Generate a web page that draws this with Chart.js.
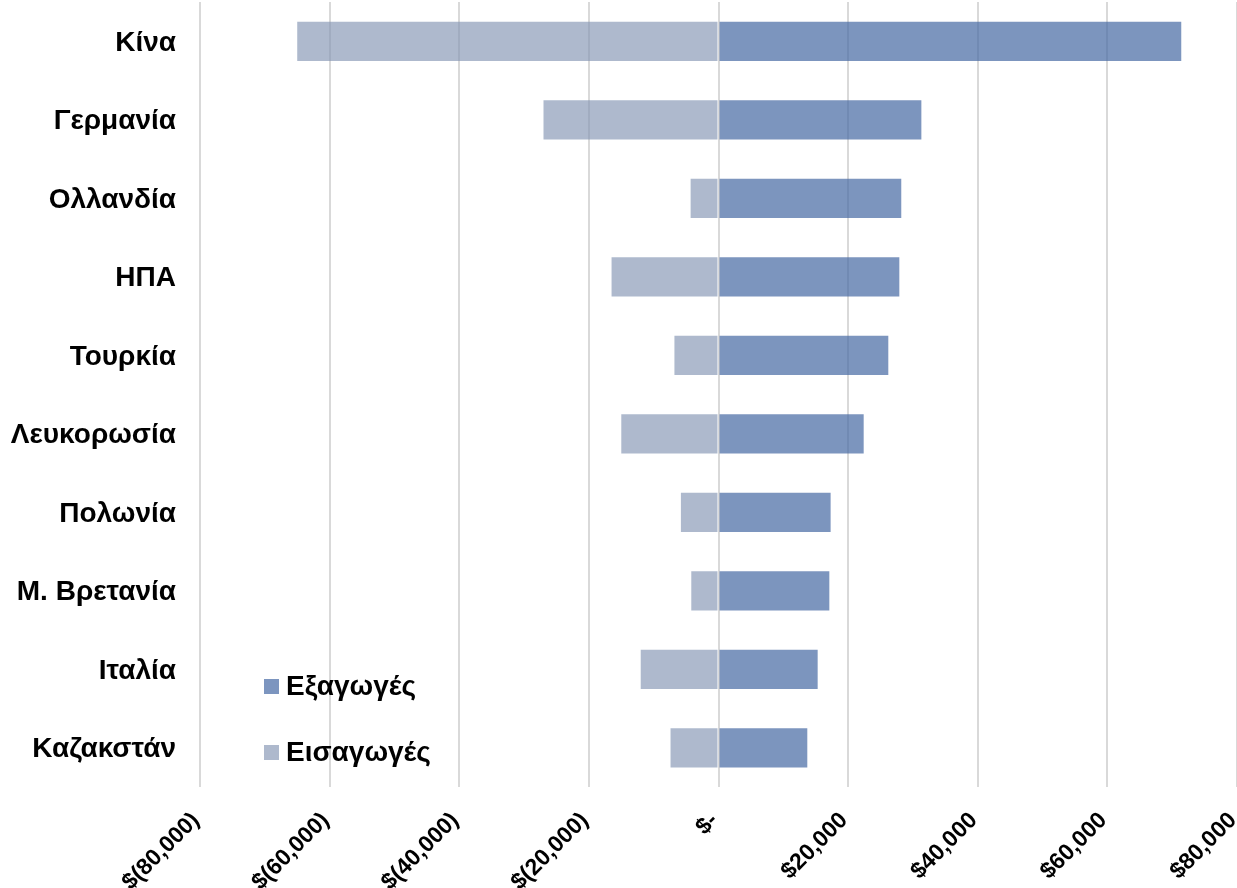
<!DOCTYPE html>
<html>
<head>
<meta charset="utf-8">
<script src="https://cdn.jsdelivr.net/npm/chart.js@4/dist/chart.umd.min.js"></script>
<style>
html,body{margin:0;padding:0;background:#fff;}
#wrap{position:relative;width:1237px;height:888px;}
#legend{position:absolute;left:264px;top:653px;font-family:"Liberation Sans",Arial,sans-serif;font-weight:bold;font-size:28px;color:#000;}
#legend .item{display:flex;align-items:center;height:66px;}
#legend .sw{width:15px;height:15px;margin-right:7px;}
</style>
</head>
<body>
<div id="wrap">
<canvas id="c" width="1237" height="888"></canvas>
<div id="legend"></div>
</div>
<script>
const categories = ["Κίνα","Γερμανία","Ολλανδία","ΗΠΑ","Τουρκία","Λευκορωσία","Πολωνία","Μ. Βρετανία","Ιταλία","Καζακστάν"];
const exportsData = [71400, 31300, 28200, 27900, 26200, 22400, 17300, 17100, 15300, 13700];
const importsData = [-65000, -27000, -4300, -16500, -6800, -15000, -5800, -4200, -12000, -7400];
const seriesNames = ["Εξαγωγές","Εισαγωγές"];
const seriesColors = ["rgba(68,104,163,0.7)","rgba(130,148,178,0.65)"];
const legendSwatches = ["#7c95bf","#aeb9cd"];
const tickValues = [-80000,-60000,-40000,-20000,0,20000,40000,60000,80000];

function fmt(v){
  if (v === 0) return "$-";
  const s = Math.abs(v).toLocaleString("en-US");
  return v < 0 ? "$(" + s + ")" : "$" + s;
}

const FONT = '"Liberation Sans", Arial, sans-serif';

new Chart(document.getElementById("c"), {
  type: "bar",
  data: {
    labels: categories,
    datasets: [
      {label: seriesNames[0], data: exportsData, backgroundColor: seriesColors[0], barPercentage: 0.5, categoryPercentage: 1},
      {label: seriesNames[1], data: importsData, backgroundColor: seriesColors[1], barPercentage: 0.5, categoryPercentage: 1}
    ]
  },
  options: {
    indexAxis: "y",
    responsive: false,
    animation: false,
    layout: {padding: {top: 2, right: 0, left: 0, bottom: 0}},
    plugins: {legend: {display: false}, tooltip: {enabled: false}},
    scales: {
      x: {
        stacked: true,
        min: -80000, max: 80000,
        afterBuildTicks: (s) => { s.ticks = tickValues.map(v => ({value: v})); },
        afterFit: (s) => { s.height = 101; s.paddingLeft = 0; s.paddingRight = 0; s.paddingTop = 0; s.paddingBottom = 0; },
        grid: {color: "#d9d9d9", lineWidth: 2, drawTicks: false},
        border: {display: false},
        ticks: {
          callback: (v) => fmt(v),
          minRotation: 45, maxRotation: 45,
          padding: 20,
          labelOffset: -4,
          color: "#000",
          font: {family: FONT, weight: "bold", size: 23}
        }
      },
      y: {
        stacked: true,
        afterFit: (s) => { s.width = 200; s.paddingTop = 0; s.paddingBottom = 0; s.paddingLeft = 0; s.paddingRight = 0; },
        grid: {display: false, drawTicks: false},
        border: {display: false},
        ticks: {
          padding: 24,
          labelOffset: 2,
          color: "#000",
          font: {family: FONT, weight: "bold", size: 28}
        }
      }
    }
  }
});

const lg = document.getElementById("legend");
seriesNames.forEach((n, i) => {
  const d = document.createElement("div");
  d.className = "item";
  d.innerHTML = '<span class="sw" style="background:' + legendSwatches[i] + '"></span><span>' + n + '</span>';
  lg.appendChild(d);
});
</script>
</body>
</html>
